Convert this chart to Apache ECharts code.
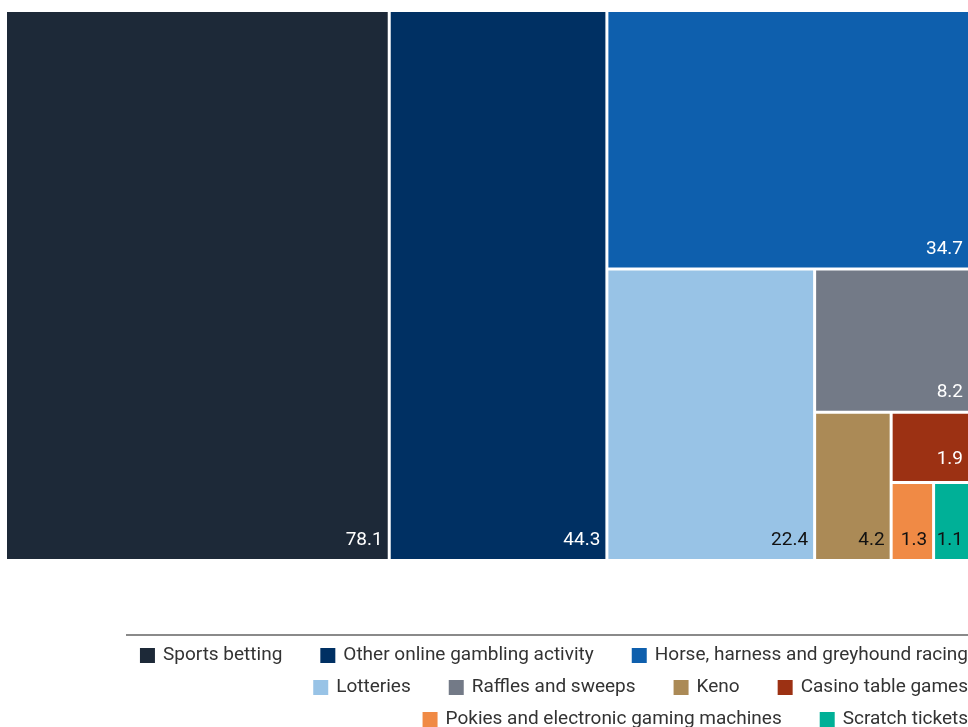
<!DOCTYPE html>
<html><head><meta charset="utf-8">
<script src="https://cdn.jsdelivr.net/npm/echarts@6/dist/echarts.min.js"></script>
<style>html,body{margin:0;padding:0;background:#fff}#c{width:968px;height:727px}</style>
</head><body><div id="c"></div>
<script>
const categories = ["Sports betting","Other online gambling activity","Horse, harness and greyhound racing","Lotteries","Raffles and sweeps","Keno","Casino table games","Pokies and electronic gaming machines","Scratch tickets"];
const values = [78.1,44.3,34.7,22.4,8.2,4.2,1.9,1.3,1.1];
const colors = ["#1d2938","#003063","#0e5fad","#98c3e6","#737a87","#ab8a56","#9c3113","#f08a45","#00b097"];
const labelColors = ["#fff","#fff","#fff","#111","#fff","#111","#fff","#111","#111"];
const legendRows = [[0,1,2],[3,4,5,6],[7,8]];
const FONT = "Roboto";

const chart = echarts.init(document.getElementById('c'));
const leaf = i => ({name:categories[i],value:values[i],itemStyle:{color:colors[i]},label:{color:labelColors[i]}});
const group = (children, extra) => Object.assign({name:'',children:children}, extra||{});

// nesting only controls the slicing order of the squarified layout
const Y = group([leaf(7),leaf(8)],{
  itemStyle:{gapWidth:3,borderWidth:0,
    borderColor:{type:'linear',x:0,y:0,x2:0,y2:1,colorStops:[
      {offset:0,color:colors[6]},{offset:0.037,color:colors[6]},{offset:0.037,color:'#fff'},{offset:1,color:'#fff'}]}},
  upperLabel:{show:true,height:6,formatter:()=>''}
});
const G6 = group([leaf(6),Y],{itemStyle:{gapWidth:0,borderWidth:0}});
const G5 = group([leaf(5),G6]);
const G4 = group([leaf(4),G5]);
const G3 = group([leaf(3),G4]);
const GR = group([leaf(2),G3]);
const GL = group([leaf(0),leaf(1)]);

const legends = legendRows.map((row,r)=>({
  orient:'horizontal', right:0, top:646+r*32, padding:0, itemWidth:15, itemHeight:15, itemGap:38, icon:'rect',
  textStyle:{fontFamily:FONT,fontSize:19,color:'#333',padding:[0,0,0,3]},
  selectedMode:false,
  data:row.map(i=>categories[i])
}));
chart.setOption({
  animation:false,
  legend:legends,
  graphic:[{type:'line',shape:{x1:126,y1:635,x2:968,y2:635},style:{stroke:'#8a8a8a',lineWidth:2}}],
  series:[{
    type:'treemap', left:7, top:12, right:0, bottom:168,
    roam:false, nodeClick:false, breadcrumb:{show:false},
    squareRatio:1, sort:false,
    itemStyle:{borderWidth:0,gapWidth:3,borderColor:'#fff'},
    label:{show:true,position:'insideBottomRight',distance:0,padding:[5,5,9,5],overflow:'none',
      fontFamily:FONT,fontSize:19,formatter:p=>p.value.toFixed(1)},
    data:[GL,GR]
  },{
    type:'pie', radius:0, center:['50%','50%'], silent:true,
    label:{show:false}, labelLine:{show:false},
    data:categories.map((n,i)=>({name:n,value:values[i],itemStyle:{color:colors[i]}}))
  }]
});
</script></body></html>
